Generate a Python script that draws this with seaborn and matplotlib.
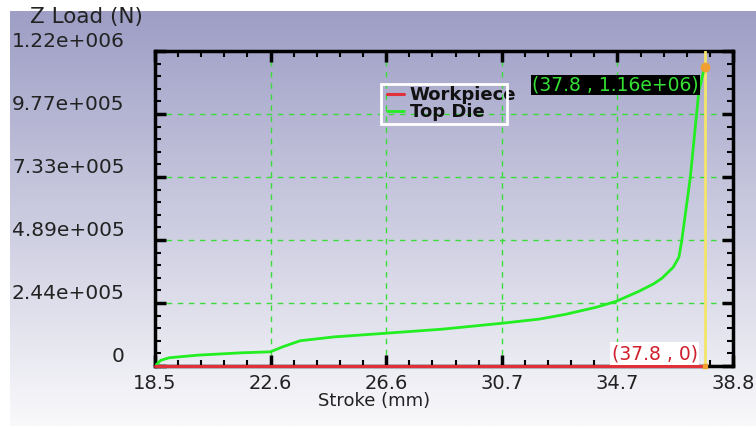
import numpy as np
import matplotlib
matplotlib.use("Agg")
import matplotlib.pyplot as plt
from matplotlib.patches import Rectangle
from matplotlib.ticker import AutoMinorLocator, FixedLocator
from matplotlib.transforms import ScaledTranslation
import seaborn as sns

# Données (Stroke en mm, charge Z en N)
stroke = [18.5, 18.7, 19.0, 20.0, 21.5, 22.55, 23.0, 23.6, 24.8, 26.6, 28.6,
          30.7, 32.0, 32.9, 34.0, 34.7, 35.5, 36.0, 36.3, 36.7, 36.9, 37.0,
          37.3, 37.6, 37.8]
top_die_load = [0, 22e3, 32e3, 42e3, 51e3, 55e3, 75e3, 98e3, 113e3, 127e3, 143e3,
                166e3, 182e3, 200e3, 228e3, 251e3, 290e3, 318e3, 340e3, 383e3,
                422e3, 486e3, 731e3, 1066e3, 1160e3]
workpiece_stroke = [18.5, 37.8]
workpiece_load = [0, 0]

x_ticks = [18.5, 22.56, 26.62, 30.68, 34.74, 38.8]
x_labels = ["18.5", "22.6", "26.6", "30.7", "34.7", "38.8"]
y_ticks = [0, 2.444e5, 4.888e5, 7.332e5, 9.776e5, 1.222e6]
y_labels = ["0", "2.44e+005", "4.89e+005", "7.33e+005", "9.77e+005", "1.22e+006"]

probe_x = 37.8
probe_top = 1.16e6

sns.set_style("ticks")
plt.rcParams['font.family'] = ['DejaVu Sans']

W, H = 756, 428
fig = plt.figure(figsize=(W / 100, H / 100), dpi=100)
fig.patch.set_facecolor("white")

# fond dégradé
bg = fig.add_axes([10 / W, 2 / H, 1 - 10 / W, 1 - 13 / H])
top_c = np.array([158, 158, 198]) / 255
bot_c = np.array([249, 249, 251]) / 255
t = np.linspace(0, 1, 256)[:, None]
grad = top_c[None, :] * (1 - t) + bot_c[None, :] * t
bg.imshow(grad[:, None, :], aspect="auto", extent=[0, 1, 0, 1])
bg.set_axis_off()
bg.set_zorder(-5)

ax = fig.add_axes([155 / W, 1 - 366 / H, 578 / W, 315 / H])
ax.set_facecolor("none")

sns.lineplot(x=workpiece_stroke, y=workpiece_load, color="#e0303a", lw=2.2,
             label="Workpiece", ax=ax, zorder=6, clip_on=False)
sns.lineplot(x=stroke, y=top_die_load, color="#22ee22", lw=2, sort=False,
             estimator=None, label="Top Die", ax=ax, zorder=5)

ax.axvline(probe_x, color="#f4e46a", lw=2, zorder=4)
ax.plot([probe_x], [probe_top], "o", color="#f0a030", ms=6, zorder=7)
ax.plot([probe_x], [0], "s", color="#f0a030", ms=3.5, zorder=7, clip_on=False)

ax.set_xlim(18.5, 38.8)
ax.set_ylim(0, 1.222e6)
ax.xaxis.set_major_locator(FixedLocator(x_ticks))
ax.yaxis.set_major_locator(FixedLocator(y_ticks))
ax.set_xticklabels(x_labels, fontsize=14, color="#222222")
ax.set_yticklabels(y_labels, fontsize=14.5, color="#222222")
ax.xaxis.set_minor_locator(AutoMinorLocator(5))
ax.yaxis.set_minor_locator(AutoMinorLocator(5))
ax.tick_params(which="both", direction="in", top=True, right=True, color="black")
ax.tick_params(which="major", length=8, width=2.5)
ax.tick_params(which="minor", length=4.5, width=1.5)
ax.tick_params(axis="y", pad=22)
ax.tick_params(axis="x", pad=6)
for lab in ax.get_yticklabels():
    lab.set_transform(lab.get_transform() + ScaledTranslation(0, 8 / 72, fig.dpi_scale_trans))

for s in ax.spines.values():
    s.set_linewidth(2.5)
    s.set_color("black")

ax.grid(which="major", color="#3ddc3d", ls=(0, (4, 4)), lw=1)
ax.set_axisbelow(True)

ax.set_xlabel("")
ax.set_ylabel("")

# cadre blanc de la légende (le texte déborde à droite comme sur l'original)
fig.patches.append(Rectangle((381 / W, 1 - 124 / H), 126 / W, 40 / H,
                             transform=fig.transFigure, fill=False,
                             ec="white", lw=2, zorder=1))
leg = ax.legend(loc="upper left", bbox_to_anchor=((387 - 155) / 578, (366 - 86) / 315),
                frameon=False, borderpad=0, borderaxespad=0,
                handlelength=0.95, handletextpad=0.3, labelspacing=-0.04,
                prop={"weight": "bold", "size": 13})
leg.set_zorder(10)
for txt in leg.get_texts():
    txt.set_color("#111111")

ax.annotate("(37.8 , 1.16e+06)", xy=(probe_x, probe_top), xytext=(-4, -13),
            textcoords="offset points", ha="right", va="center",
            fontsize=13.5, color="#33e033",
            bbox=dict(boxstyle="square,pad=0.05", fc="black", ec="none"), zorder=8)
ax.annotate("(37.8 , 0)", xy=(probe_x, 0), xytext=(-5, 9),
            textcoords="offset points", ha="right", va="center",
            fontsize=13.5, color="#d0202c",
            bbox=dict(boxstyle="square,pad=0.1", fc="white", ec="none"), zorder=8)

fig.text(374 / W, 1 - 401 / H, "Stroke (mm)", ha="center", va="center",
         fontsize=13, color="#222222")
fig.text(30 / W, 1 - 17 / H, "Z Load (N)", ha="left", va="center",
         fontsize=15.5, color="#222222")

fig.savefig("out.png", dpi=100)
